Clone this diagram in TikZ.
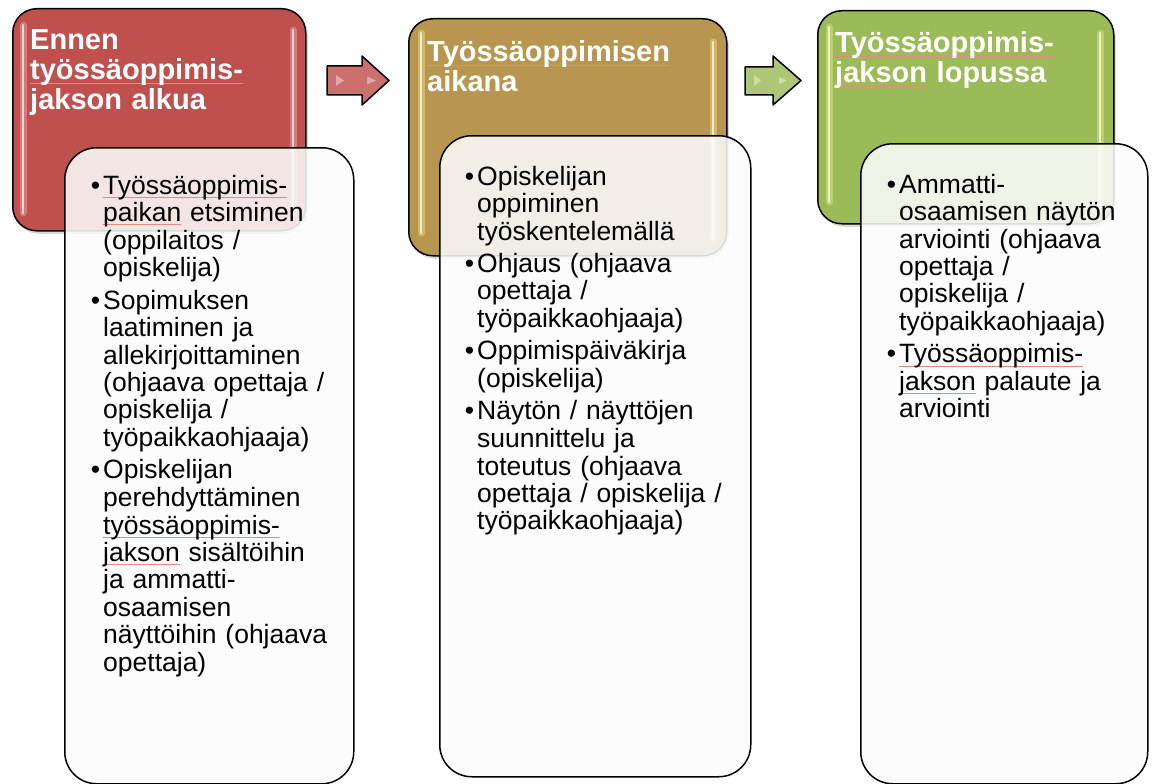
\documentclass[tikz,border=0pt]{standalone}
\usepackage{fontspec}
\setmainfont{Liberation Sans}
\usetikzlibrary{shadows}
\definecolor{hred}{HTML}{C0504D}
\definecolor{hgold}{HTML}{B8964F}
\definecolor{hgreen}{HTML}{9BBB59}
\definecolor{splred}{HTML}{E58A7E}
\definecolor{bfill}{HTML}{FCFCFC}
\newcommand\spl[1]{\leavevmode\setbox0\hbox{#1}\rlap{\color{splred}\rule[-3.5pt]{\wd0}{0.7pt}}\box0\relax}
\newcommand\bul{\leavevmode\llap{\textbullet\hspace{3pt}}}
\begin{document}
\begin{tikzpicture}[x=1pt,y=-1pt,
 hdr/.style={draw=black, line width=1.5pt, rounded corners=24pt, anchor=north west, inner sep=0pt,
   drop shadow={opacity=0.3,shadow xshift=2pt,shadow yshift=-3pt}},
 body/.style={draw=black, line width=1.5pt, rounded corners=32pt, anchor=north west, inner sep=0pt,
   fill=bfill, fill opacity=0.87},
 htext/.style={anchor=base west, inner sep=0pt, text=white, font=\bfseries\fontsize{29}{30}\selectfont, align=left, text width=300pt},
 btext/.style={anchor=base west, inner sep=0pt, text=black, font=\fontsize{26.5}{27.5}\selectfont, align=left, text width=300pt},
 streak/.style={line width=2.5pt, line cap=round, white, opacity=0.7},
 glow/.style={line width=7pt, line cap=round, opacity=0.35},
 arr/.style={draw=black, line width=1.5pt, line join=round},
 hl/.style={fill=white, opacity=0.4}
]
\useasboundingbox (0,0) rectangle (1152,784);

% ---------- column 1 ----------
\node[hdr, fill=hred, minimum width=293pt, minimum height=222pt] (h1) at (12,8) {};
\draw[glow, red!20!white] (23,25) -- (23,213);
\draw[streak] (23,25) -- (23,213);
\draw[glow, red!20!white] (293,30) -- (293,215);
\draw[streak] (293,30) -- (293,215);
\node[htext] (h1t) at (30,50) {Ennen\\\spl{työssäoppimis-}\\jakson alkua};
\node[body, minimum width=289pt, minimum height=636pt] (b1) at (64,147) {};
\node[btext] (b1t) at (103,194) {%
\bul\spl{Työssäoppimis-}\\
\spl{paikan} etsiminen\\
(oppilaitos /\\
opiskelija)\\[5pt]
\bul Sopimuksen\\
laatiminen ja\\
allekirjoittaminen\\
(ohjaava opettaja /\\
opiskelija /\\
työpaikkaohjaaja)\\[5pt]
\bul Opiskelijan\\
perehdyttäminen\\
\spl{työssäoppimis-}\\
\spl{jakson} sisältöihin\\
ja ammatti-\\
osaamisen\\
näyttöihin (ohjaava\\
opettaja)};

% ---------- arrow 1 ----------
\draw[arr, fill=hred!82!white] (327,66) -- (362,66) -- (362,56) -- (389,80.5) -- (362,105) -- (362,95) -- (327,95) -- cycle;
\fill[hl] (336,75) -- (344,80.5) -- (336,86) -- cycle;
\fill[hl] (367,76.5) -- (376,80.5) -- (367,84.5) -- cycle;

% ---------- column 2 ----------
\node[hdr, fill=hgold, minimum width=318pt, minimum height=237pt] (h2) at (408,18) {};
\draw[glow, yellow!40!white] (421,33) -- (421,233);
\draw[streak] (421,33) -- (421,233);
\draw[glow, yellow!40!white] (713,42) -- (713,238);
\draw[streak] (713,42) -- (713,238);
\node[htext] (h2t) at (427,62) {\spl{Työssäoppimisen}\\aikana};
\node[body, minimum width=311pt, minimum height=641pt] (b2) at (439,135) {};
\node[btext] (b2t) at (477,185) {%
\bul Opiskelijan\\
oppiminen\\
työskentelemällä\\[5pt]
\bul Ohjaus (ohjaava\\
opettaja /\\
työpaikkaohjaaja)\\[5pt]
\bul Oppimispäiväkirja\\
(opiskelija)\\[5pt]
\bul Näytön / näyttöjen\\
suunnittelu ja\\
toteutus (ohjaava\\
opettaja / opiskelija /\\
työpaikkaohjaaja)};

% ---------- arrow 2 ----------
\draw[arr, fill=hgreen!82!white] (745,67) -- (773,67) -- (773,56) -- (801,80.5) -- (773,105) -- (773,95) -- (745,95) -- cycle;
\fill[hl] (754,75) -- (761,80.5) -- (754,86) -- cycle;
\fill[hl] (779,77) -- (787,80.5) -- (779,84) -- cycle;

% ---------- column 3 ----------
\node[hdr, fill=hgreen, minimum width=296pt, minimum height=213pt] (h3) at (817,10) {};
\draw[glow, yellow!50!white] (829,27) -- (829,202);
\draw[streak] (829,27) -- (829,202);
\draw[glow, yellow!50!white] (1100,33) -- (1100,205);
\draw[streak] (1100,33) -- (1100,205);
\node[htext] (h3t) at (835,53) {\spl{Työssäoppimis-}\\\spl{jakson} lopussa};
\node[body, minimum width=287pt, minimum height=640pt] (b3) at (860,143) {};
\node[btext] (b3t) at (899,193) {%
\bul Ammatti-\\
osaamisen näytön\\
arviointi (ohjaava\\
opettaja /\\
opiskelija /\\
työpaikkaohjaaja)\\[5pt]
\bul\spl{Työssäoppimis-}\\
\spl{jakson} palaute ja\\
arviointi};
\end{tikzpicture}
\end{document}
